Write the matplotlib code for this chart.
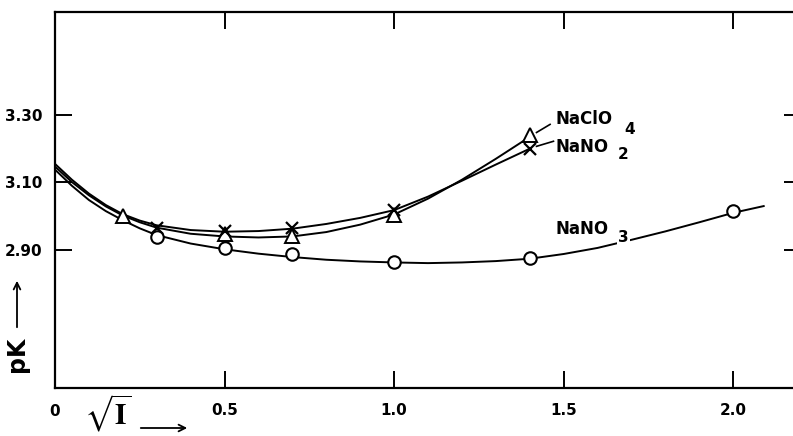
import matplotlib
matplotlib.use("Agg")
import matplotlib.pyplot as plt

# ---- data ----
# measured points
x_clo4 = [0.2, 0.5, 0.7, 1.0, 1.4]
pk_clo4 = [3.00, 2.948, 2.94, 3.005, 3.24]
x_no2 = [0.3, 0.5, 0.7, 1.0, 1.4]
pk_no2 = [2.965, 2.957, 2.965, 3.018, 3.20]
x_no3 = [0.3, 0.5, 0.7, 1.0, 1.4, 2.0]
pk_no3 = [2.938, 2.906, 2.888, 2.864, 2.877, 3.016]

# drawn fitted curves
cx_clo4 = [0.0, 0.05, 0.1, 0.15, 0.2, 0.25, 0.3, 0.4, 0.5, 0.6, 0.7, 0.8, 0.9, 1.0, 1.1, 1.2, 1.3, 1.4]
cy_clo4 = [3.147, 3.101, 3.062, 3.029, 3.002, 2.982, 2.966, 2.948, 2.940, 2.937, 2.940, 2.953, 2.975,
           3.005, 3.052, 3.108, 3.170, 3.235]
cx_no2 = [0.0, 0.05, 0.1, 0.15, 0.2, 0.25, 0.3, 0.4, 0.5, 0.6, 0.7, 0.8, 0.9, 1.0, 1.1, 1.2, 1.3, 1.4]
cy_no2 = [3.155, 3.108, 3.067, 3.033, 3.006, 2.987, 2.973, 2.959, 2.954, 2.956, 2.963, 2.977, 2.995,
          3.018, 3.058, 3.105, 3.153, 3.200]
cx_no3 = [0.0, 0.05, 0.1, 0.15, 0.2, 0.25, 0.3, 0.4, 0.5, 0.6, 0.7, 0.8, 0.9, 1.0, 1.1, 1.2, 1.3,
          1.4, 1.5, 1.6, 1.7, 1.8, 1.9, 2.0, 2.09]
cy_no3 = [3.138, 3.090, 3.048, 3.015, 2.988, 2.964, 2.944, 2.919, 2.902, 2.889, 2.879, 2.871, 2.866,
          2.863, 2.861, 2.863, 2.867, 2.874, 2.888, 2.906, 2.930, 2.955, 2.982, 3.010, 3.030]

yticks = [2.90, 3.10, 3.30]
ytick_labels = ["2.90", "3.10", "3.30"]
xticks = [0.5, 1.0, 1.5, 2.0]
xtick_labels = ["0.5", "1.0", "1.5", "2.0"]

plt.rcParams["mathtext.fontset"] = "stix"

W, H = 793, 436
fig = plt.figure(figsize=(W / 100, H / 100), dpi=100)
ax = fig.add_axes([55 / W, 48 / H, 746 / W, 376 / H])
ax.set_xlim(0, 2.2)
ax.set_ylim(2.491, 3.605)

lw = 1.4
ax.plot(cx_clo4, cy_clo4, color="black", lw=lw)
ax.plot(cx_no2, cy_no2, color="black", lw=lw)
ax.plot(cx_no3, cy_no3, color="black", lw=lw)

ax.plot(x_clo4, pk_clo4, ls="none", marker="^", ms=10, mfc="white", mec="black", mew=1.4)
ax.plot(x_no2, pk_no2, ls="none", marker="x", ms=9, mec="black", mew=1.6)
ax.plot(x_no3, pk_no3, ls="none", marker="o", ms=9, mfc="white", mec="black", mew=1.5)

for s in ax.spines.values():
    s.set_linewidth(1.6)

ax.set_yticks(yticks)
ax.set_yticklabels(ytick_labels)
ax.set_xticks(xticks)
ax.set_xticklabels(xtick_labels)
ax.tick_params(axis="both", direction="in", length=12, width=1.4,
               top=True, right=True, labelsize=11, colors="black")
ax.tick_params(axis="x", pad=11)
ax.tick_params(axis="y", pad=9)
for lab in ax.get_xticklabels() + ax.get_yticklabels():
    lab.set_fontweight("bold")

# "0" label at origin
ax.text(0.0, -0.043, "0", transform=ax.get_xaxis_transform(), ha="center", va="top",
        fontsize=11, fontweight="bold")

# curve labels
fs = 12
ax.text(1.476, 3.287, "NaClO", fontsize=fs, fontweight="bold", ha="left", va="center")
ax.text(1.68, 3.258, "4", fontsize=fs - 1, fontweight="bold", ha="left", va="center")
ax.text(1.476, 3.204, "NaNO", fontsize=fs, fontweight="bold", ha="left", va="center")
ax.text(1.66, 3.184, "2", fontsize=fs - 1, fontweight="bold", ha="left", va="center")
ax.text(1.476, 2.962, "NaNO", fontsize=fs, fontweight="bold", ha="left", va="center")
ax.text(1.66, 2.937, "3", fontsize=fs - 1, fontweight="bold", ha="left", va="center",
        bbox=dict(facecolor="white", edgecolor="none", pad=1))

# leader lines
ax.plot([1.42, 1.46], [3.248, 3.272], color="black", lw=1.2)
ax.plot([1.42, 1.47], [3.207, 3.222], color="black", lw=1.2)

# axis labels with arrows
fig.text(84 / W, 2 / H, r"$\sqrt{\mathbf{I}}$", fontsize=21, ha="left", va="bottom")
fig.add_artist(matplotlib.patches.FancyArrowPatch((138 / W, 1 - 428 / H), (190 / W, 1 - 428 / H),
               transform=fig.transFigure, arrowstyle="->", mutation_scale=12, lw=1.3, color="black"))
fig.text(17 / W, 1 - 354 / H, "pK", fontsize=17, fontweight="bold", rotation=90,
         ha="center", va="center")
fig.add_artist(matplotlib.patches.FancyArrowPatch((17 / W, 1 - 330 / H), (17 / W, 1 - 278 / H),
               transform=fig.transFigure, arrowstyle="->", mutation_scale=12, lw=1.3, color="black"))

fig.savefig("out.png", dpi=100)
